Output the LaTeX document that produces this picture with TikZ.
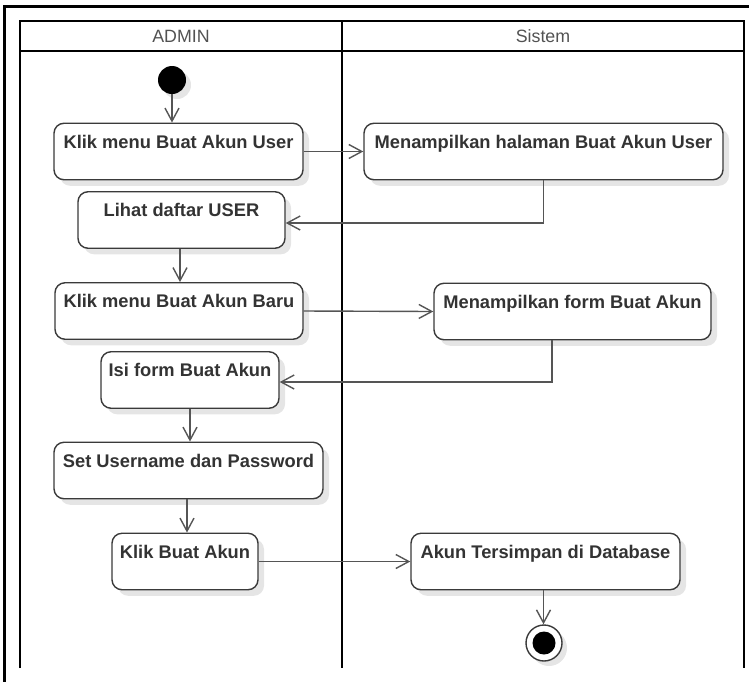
\documentclass[tikz,border=0pt]{standalone}
\usepackage{fontspec}
\setmainfont{Liberation Sans}
\usetikzlibrary{arrows.meta,shadows}
\definecolor{ink}{HTML}{333333}
\definecolor{edge}{HTML}{3A3A3A}
\definecolor{wire}{HTML}{555555}
\tikzset{
  act/.style={draw=edge, line width=1.4pt, rounded corners=10pt, fill=white,
    inner xsep=0pt, inner ysep=0pt, text height=25pt, text depth=31.5pt,
    text=ink, font=\bfseries\fontsize{18.3}{22}\selectfont,
    drop shadow={shadow xshift=6pt, shadow yshift=-6pt, fill=black, opacity=0.10}},
  flow/.style={draw=wire, line width=1.4pt, -{Straight Barb[length=13pt,width=14pt]}},
  lane/.style={draw=black, line width=2.2pt},
  head/.style={text=ink!85, font=\fontsize{17.8}{21}\selectfont}
}
\begin{document}
\begin{tikzpicture}[x=1pt,y=-1pt]
\useasboundingbox (0,0) rectangle (749,681);
\begin{scope}
\clip (0,0) rectangle (749,681);
% outer frame
\draw[line width=2.6pt] (4.5,700) -- (4.5,6.5) -- (760,6.5);
\end{scope}
% swimlanes
\draw[lane] (20,668) -- (20,21) -- (744,21) -- (744,668);
\draw[lane] (20,51) -- (744,51);
\draw[lane] (342,21) -- (342,668);
\node[head] (hadmin) at (181,36.5) {ADMIN};
\node[head] (hsys) at (543,36.5) {Sistem};

% start and end states
\node[circle, fill=black, minimum size=28pt, inner sep=0pt,
  drop shadow={shadow xshift=5pt, shadow yshift=-5pt, fill=black, opacity=0.10}] (start) at (172,80) {};
\node[circle, draw=edge, line width=1.4pt, fill=white, minimum size=36pt, inner sep=0pt,
  drop shadow={shadow xshift=5pt, shadow yshift=-5pt, fill=black, opacity=0.10}] (stop) at (544,643) {};
\node[circle, fill=black, minimum size=23pt, inner sep=0pt] (stopdot) at (stop) {};

% activities
\node[act, minimum width=249pt] (n1) at (178.5,151.5) {Klik menu Buat Akun User};
\node[act, minimum width=359pt] (n2) at (543.5,151.5) {Menampilkan halaman Buat Akun User};
\node[act, minimum width=207pt] (n3) at (181.5,220) {Lihat daftar USER};
\node[act, minimum width=248pt] (n4) at (179,311) {Klik menu Buat Akun Baru};
\node[act, minimum width=277pt] (n5) at (572.5,311.5) {Menampilkan form Buat Akun};
\node[act, minimum width=178pt] (n6) at (190,380) {Isi form Buat Akun};
\node[act, minimum width=269pt] (n7) at (188.5,470.5) {Set Username dan Password};
\node[act, minimum width=146pt] (n8) at (185,561.5) {Klik Buat Akun};
\node[act, minimum width=269pt] (n9) at (545.5,561.5) {Akun Tersimpan di Database};

% control flow
\coordinate (c5) at (552,340);
\draw[flow] (start.south) -- (start.south |- n1.north);
\draw[flow] (n1.east) -- (n2.west);
\draw[flow] (n2.south) |- ([yshift=-3pt]n3.east);
\draw[flow] (n3.south -| 180,0) -- (n4.north -| 180,0);
\draw[flow] (n4.east) -- (n5.west);
\draw[flow] (c5 |- n5.south) |- ([yshift=-2pt]n6.east);
\draw[flow] (n6.south) -- (n6.south |- n7.north);
\draw[flow] (n7.south -| 187,0) -- (n8.north -| 187,0);
\draw[flow] (n8.east) -- (n9.west);
\draw[flow] (n9.south -| 543.5,0) -- (stop.north -| 543.5,0);
\end{tikzpicture}
\end{document}
